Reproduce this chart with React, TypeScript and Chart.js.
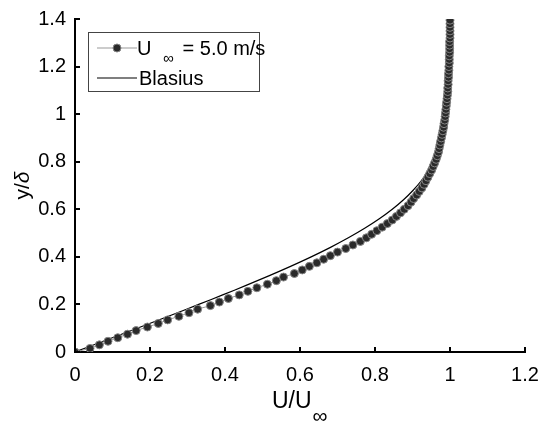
import React, { useEffect, useRef } from 'react';
import { Chart, registerables } from 'chart.js';

Chart.register(...registerables);

// Experimental profile, U∞ = 5.0 m/s (y/δ vs U/U∞)
const expY = [
  0, 0.015, 0.03, 0.045, 0.06, 0.075, 0.09, 0.105, 0.12, 0.135,
  0.15, 0.165, 0.18, 0.195, 0.21, 0.225, 0.24, 0.255, 0.27, 0.285,
  0.3, 0.315, 0.33, 0.345, 0.36, 0.375, 0.39, 0.405, 0.42, 0.435,
  0.45, 0.465, 0.48, 0.495, 0.51, 0.525, 0.54, 0.555, 0.57, 0.585,
  0.6, 0.615, 0.63, 0.645, 0.66, 0.675, 0.69, 0.705, 0.72, 0.735,
  0.75, 0.765, 0.78, 0.795, 0.81, 0.825, 0.84, 0.855, 0.87, 0.885,
  0.9, 0.915, 0.93, 0.945, 0.96, 0.975, 0.99, 1.005, 1.02, 1.035,
  1.05, 1.065, 1.08, 1.095, 1.11, 1.125, 1.14, 1.155, 1.17, 1.185,
  1.2, 1.215, 1.23, 1.245, 1.26, 1.275, 1.29, 1.305, 1.32, 1.335,
  1.35, 1.365, 1.38, 1.395,
];
const expX = [
  0, 0.04, 0.065, 0.088, 0.114, 0.14, 0.163, 0.193, 0.222, 0.247,
  0.277, 0.304, 0.327, 0.361, 0.385, 0.409, 0.438, 0.461, 0.485, 0.513,
  0.537, 0.556, 0.585, 0.606, 0.625, 0.645, 0.663, 0.681, 0.7, 0.722,
  0.741, 0.761, 0.777, 0.791, 0.805, 0.819, 0.833, 0.846, 0.857, 0.868,
  0.878, 0.888, 0.896, 0.903, 0.911, 0.918, 0.925, 0.931, 0.936, 0.941,
  0.946, 0.951, 0.955, 0.959, 0.963, 0.966, 0.969, 0.971, 0.973, 0.975,
  0.977, 0.979, 0.981, 0.983, 0.984, 0.986, 0.987, 0.988, 0.989, 0.99,
  0.991, 0.992, 0.993, 0.994, 0.994, 0.995, 0.995, 0.996, 0.996, 0.997,
  0.997, 0.998, 0.998, 0.998, 0.999, 0.999, 0.999, 0.999, 1.0, 1.0,
  1.0, 1.0, 1.0, 1.0,
];

// Blasius solution
const blasiusY = [
  0, 0.04, 0.08, 0.12, 0.16, 0.2, 0.24, 0.28, 0.32, 0.36, 0.4, 0.44,
  0.48, 0.52, 0.56, 0.6, 0.64, 0.68, 0.72, 0.76, 0.8, 0.84, 0.88, 0.92,
  0.96, 1.0, 1.04, 1.08, 1.12, 1.16, 1.2, 1.28, 1.36, 1.4,
];
const blasiusX = [
  0, 0.06641, 0.13277, 0.19894, 0.26471, 0.32979, 0.39378, 0.45627,
  0.51676, 0.57477, 0.62977, 0.68132, 0.72899, 0.77246, 0.81152, 0.84605,
  0.87609, 0.90177, 0.92333, 0.94112, 0.95552, 0.96696, 0.97587, 0.98269,
  0.98779, 0.99155, 0.99425, 0.99616, 0.99748, 0.99838, 0.99898, 0.99961,
  0.99987, 0.99992,
];

const xTickValues = [0, 0.2, 0.4, 0.6, 0.8, 1, 1.2];
const yTickValues = [0, 0.2, 0.4, 0.6, 0.8, 1, 1.2, 1.4];

const seriesLabel = 'U∞ = 5.0 m/s';
const blasiusLabel = 'Blasius';

const FONT = '"Liberation Sans", Arial, Helvetica, sans-serif';
const MARKER_FILL = '#2a2a2a';
const MARKER_EDGE = '#858585';
const LINE_GRAY = '#999999';

const decorPlugin = {
  id: 'decor',
  afterDraw(chart: any) {
    const ctx = chart.ctx;
    const xs = chart.scales.x;
    const ys = chart.scales.y;
    const area = chart.chartArea;
    ctx.save();
    // inward ticks
    ctx.strokeStyle = '#000';
    ctx.lineWidth = 2;
    xTickValues.forEach((v) => {
      const px = Math.round(xs.getPixelForValue(v));
      ctx.beginPath();
      ctx.moveTo(px, area.bottom);
      ctx.lineTo(px, area.bottom - 5);
      ctx.stroke();
    });
    yTickValues.forEach((v) => {
      const py = Math.round(ys.getPixelForValue(v));
      ctx.beginPath();
      ctx.moveTo(area.left, py);
      ctx.lineTo(area.left + 5, py);
      ctx.stroke();
    });

    // axis titles
    ctx.fillStyle = '#000';
    ctx.textBaseline = 'alphabetic';
    ctx.textAlign = 'left';
    ctx.font = `23px ${FONT}`;
    const xMid = (area.left + area.right) / 2;
    const uw = ctx.measureText('U/U').width;
    const tx = xMid - 28;
    ctx.fillText('U/U', tx, 408);
    ctx.font = `21px ${FONT}`;
    ctx.fillText('∞', tx + uw + 1, 423);

    ctx.save();
    ctx.translate(29, (area.top + area.bottom) / 2);
    ctx.rotate(-Math.PI / 2);
    ctx.font = `21px ${FONT}`;
    const w1 = ctx.measureText('y/').width;
    ctx.font = `italic 21px ${FONT}`;
    const w2 = ctx.measureText('δ').width;
    const start = -(w1 + w2) / 2;
    ctx.font = `21px ${FONT}`;
    ctx.fillText('y/', start, 0);
    ctx.font = `italic 21px ${FONT}`;
    ctx.fillText('δ', start + w1, 0);
    ctx.restore();

    // legend
    const bx = area.left + 13;
    const by = area.top + 13;
    ctx.fillStyle = '#fff';
    ctx.fillRect(bx, by, 171, 59);
    ctx.strokeStyle = '#444';
    ctx.lineWidth = 1;
    ctx.strokeRect(bx + 0.5, by + 0.5, 171, 59);

    const r1 = by + 16;
    const r2 = by + 46;
    ctx.strokeStyle = LINE_GRAY;
    ctx.lineWidth = 1;
    ctx.beginPath();
    ctx.moveTo(bx + 9, r1);
    ctx.lineTo(bx + 49, r1);
    ctx.stroke();
    ctx.beginPath();
    ctx.arc(bx + 29, r1, 4, 0, Math.PI * 2);
    ctx.fillStyle = MARKER_FILL;
    ctx.fill();
    ctx.strokeStyle = MARKER_EDGE;
    ctx.stroke();

    ctx.strokeStyle = '#000';
    ctx.lineWidth = 1.2;
    ctx.beginPath();
    ctx.moveTo(bx + 9, r2);
    ctx.lineTo(bx + 49, r2);
    ctx.stroke();

    ctx.fillStyle = '#000';
    ctx.font = `20px ${FONT}`;
    const uPart = seriesLabel.slice(0, 1);
    const rest = seriesLabel.slice(2);
    ctx.fillText(uPart, bx + 49, r1 + 7);
    ctx.font = `15px ${FONT}`;
    ctx.fillText('∞', bx + 75, r1 + 15);
    ctx.font = `20px ${FONT}`;
    ctx.fillText(rest, bx + 89, r1 + 7);
    ctx.fillText(blasiusLabel, bx + 51, r2 + 7);

    ctx.restore();
  },
};

export default function App() {
  const ref = useRef<HTMLCanvasElement | null>(null);
  useEffect(() => {
    if (!ref.current) return;
    const chart = new Chart(ref.current, {
      type: 'scatter',
      data: {
        datasets: [
          {
            label: seriesLabel,
            data: expX.map((x, i) => ({ x, y: expY[i] })),
            showLine: true,
            borderColor: LINE_GRAY,
            borderWidth: 1,
            pointRadius: 4,
            pointBackgroundColor: MARKER_FILL,
            pointBorderColor: MARKER_EDGE,
            pointBorderWidth: 1,
            pointStyle: 'circle',
          },
          {
            label: blasiusLabel,
            data: blasiusX.map((x, i) => ({ x, y: blasiusY[i] })),
            showLine: true,
            borderColor: '#000',
            borderWidth: 1.2,
            pointRadius: 0,
            tension: 0.3,
          },
        ],
      },
      options: {
        responsive: false,
        animation: false,
        events: [],
        layout: { padding: { left: 0, top: 19, right: 17, bottom: 0 } },
        plugins: {
          legend: { display: false },
          tooltip: { enabled: false },
        },
        scales: {
          x: {
            type: 'linear',
            min: 0,
            max: 1.2,
            afterFit: (s: any) => { s.height = 69; s.paddingLeft = 0; s.paddingRight = 0; },
            afterBuildTicks: (s: any) => { s.ticks = xTickValues.map((v) => ({ value: v })); },
            grid: { display: false, drawTicks: false },
            border: { display: true, color: '#000', width: 2 },
            ticks: {
              padding: 11,
              color: '#000',
              font: { family: FONT, size: 20 },
              callback: (v: any) => String(Number(Number(v).toFixed(1))),
            },
          },
          y: {
            type: 'linear',
            min: 0,
            max: 1.4,
            afterFit: (s: any) => { s.width = 75; s.paddingTop = 0; s.paddingBottom = 0; },
            afterBuildTicks: (s: any) => { s.ticks = yTickValues.map((v) => ({ value: v })); },
            grid: { display: false, drawTicks: false },
            border: { display: true, color: '#000', width: 2 },
            ticks: {
              padding: 9,
              color: '#000',
              font: { family: FONT, size: 20 },
              callback: (v: any) => String(Number(Number(v).toFixed(1))),
            },
          },
        },
      },
      plugins: [decorPlugin],
    });
    return () => chart.destroy();
  }, []);
  return (
    <div style={{ position: 'fixed', left: 0, top: 0, width: 542, height: 421, background: '#fff' }}>
      <canvas ref={ref} width={542} height={421} style={{ display: 'block' }} />
    </div>
  );
}
